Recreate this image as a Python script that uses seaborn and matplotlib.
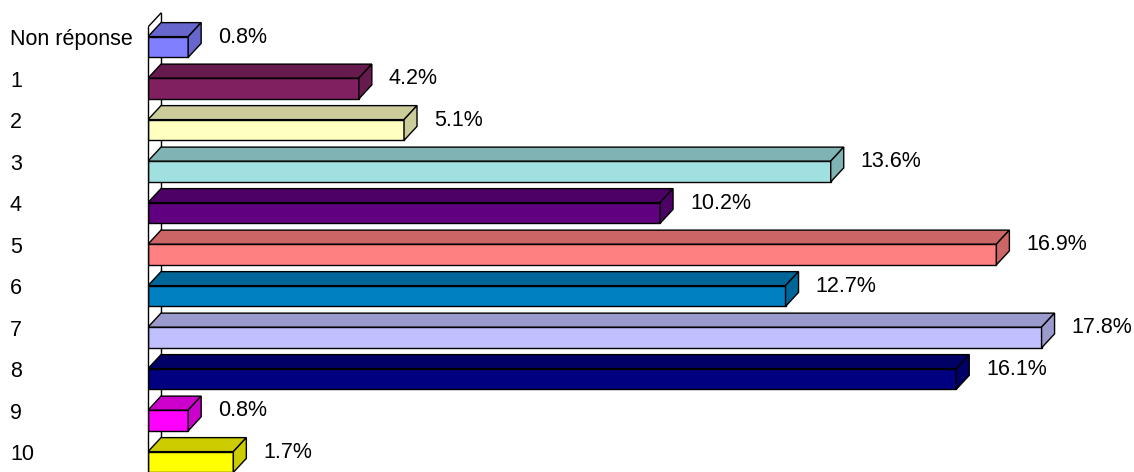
import numpy as np
import pandas as pd
import matplotlib
matplotlib.use('Agg')
import matplotlib.pyplot as plt
import matplotlib.transforms as mtransforms
from matplotlib.patches import Polygon
from matplotlib.colors import to_rgb
import seaborn as sns

# Data
categories = ['Non réponse', '1', '2', '3', '4', '5', '6', '7', '8', '9', '10']
percents = [0.8, 4.2, 5.1, 13.6, 10.2, 16.9, 12.7, 17.8, 16.1, 0.8, 1.7]
colors = ['#8080FF', '#802060', '#FFFFC0', '#A0E0E0', '#600080', '#FF8080',
          '#0080C0', '#C0C0FF', '#000080', '#FF00FF', '#FFFF00']

sns.set_theme(style='white')
plt.rcParams['font.family'] = ['Liberation Sans', 'DejaVu Sans']

df = pd.DataFrame({'Category': categories, 'Percent': percents})

fig = plt.figure(figsize=(11.34, 4.72), dpi=100)
W, H = 1134, 472
ax_left = 148
ax = fig.add_axes([ax_left / W, 0, (W - ax_left) / W, 1])

px_x = 50.2    # pixels per percent
px_y = 41.5    # pixels per category
top_center = 47

sns.barplot(data=df, x='Percent', y='Category', hue='Category', palette=colors,
            legend=False, orient='h', width=0.5, edgecolor='black', linewidth=1,
            saturation=1, ax=ax, zorder=3)

ax.set_xlim(0, (W - ax_left) / px_x)
ax.set_ylim((H - top_center) / px_y, -top_center / px_y)

dx = 13 / px_x
dy = 14 / px_y

def shade(c, f):
    r, g, b = to_rgb(c)
    return (r * f, g * f, b * f)

# 3D top and side faces
for p, col in zip(ax.patches, colors):
    x0, x1 = p.get_x(), p.get_x() + p.get_width()
    yt = p.get_y()
    yb = p.get_y() + p.get_height()
    dark = shade(col, 0.8)
    top = Polygon([(x0, yt), (x1, yt), (x1 + dx, yt - dy), (x0 + dx, yt - dy)],
                  closed=True, facecolor=dark, edgecolor='black', linewidth=1, zorder=3)
    side = Polygon([(x1, yt), (x1, yb), (x1 + dx, yb - dy), (x1 + dx, yt - dy)],
                   closed=True, facecolor=dark, edgecolor='black', linewidth=1, zorder=3)
    ax.add_patch(top)
    ax.add_patch(side)
    ax.annotate(f'{p.get_width():.1f}%', (x1 + dx, (yt + yb) / 2),
                xytext=(17, 10), textcoords='offset pixels',
                ha='left', va='center', fontsize=15.5, color='black')

# left wall
wall_top = (27 - top_center) / px_y
ylow = (H - top_center) / px_y + 1
ax.plot([0, 0], [wall_top, ylow], color='black', lw=1, zorder=4, clip_on=False)
ax.plot([0, dx], [wall_top, wall_top - dy], color='black', lw=1, zorder=2)
ax.plot([dx, dx], [wall_top - dy, ylow], color='black', lw=1, zorder=2)

# labels
ax.set_xlabel('')
ax.set_ylabel('')
ax.set_xticks([])
ax.tick_params(axis='y', length=0, pad=(ax_left - 10) * 72 / 100, labelsize=15.5,
               labelcolor='black')
shift = mtransforms.ScaledTranslation(0, 10 / 100, fig.dpi_scale_trans)
for lab in ax.get_yticklabels():
    lab.set_ha('left')
    lab.set_transform(lab.get_transform() + shift)
for s in ax.spines.values():
    s.set_visible(False)
ax.set_facecolor('white')
ax.grid(False)

fig.savefig('out.png', dpi=100, facecolor='white')
